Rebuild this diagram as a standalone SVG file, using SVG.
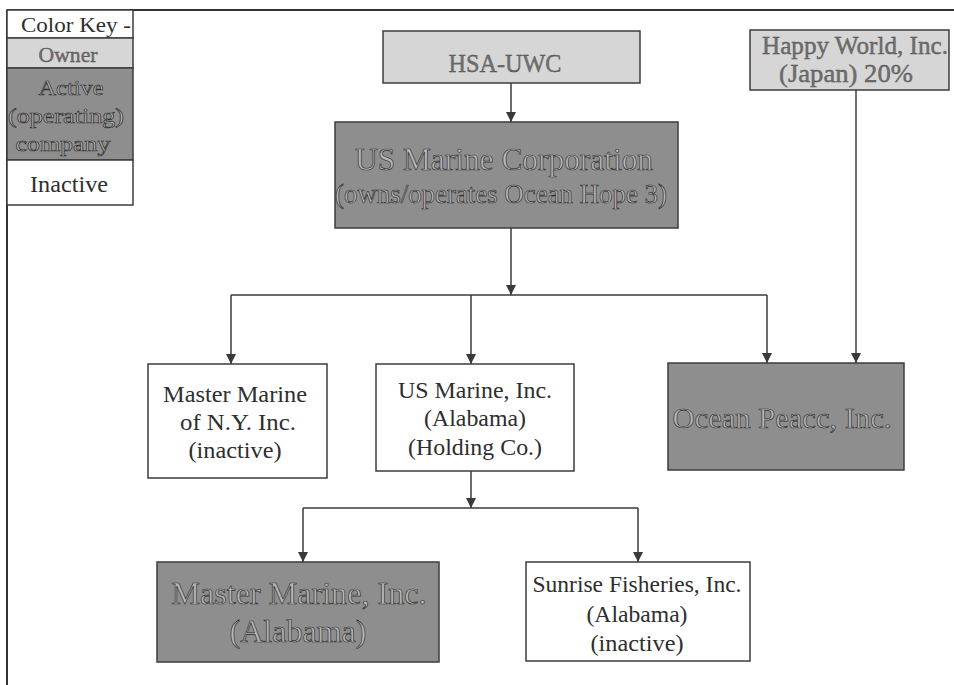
<svg xmlns="http://www.w3.org/2000/svg" width="954" height="685" viewBox="0 0 954 685">
<style>
  text{font-family:"Liberation Serif","DejaVu Serif","Times New Roman",serif}
  .t{text-anchor:middle}
  .box{stroke:#3c3c3c;stroke-width:1.5}
  .owner{fill:#d6d6d6}
  .active{fill:#8e8e8e}
  .inactive{fill:#ffffff}
  .tin{fill:#2e2e2e}
  .town{fill:#707070;stroke:#4a4a4a;stroke-width:0.35}
  .tact{fill:#b8b8b8;stroke:#333333;stroke-width:0.7}
  .con{fill:none;stroke:#3a3a3a;stroke-width:1.5}
</style>
<defs>
  <marker id="ah" viewBox="0 0 10 10" refX="10" refY="5" markerWidth="10" markerHeight="10" markerUnits="userSpaceOnUse" orient="auto">
    <path d="M0,0 L10,5 L0,10 z" fill="#3a3a3a"/>
  </marker>
</defs>
<rect width="954" height="685" fill="#ffffff"/>
<g id="frame">
  <line x1="7" y1="10" x2="954" y2="10" stroke="#333" stroke-width="2"/>
  <line x1="7" y1="10" x2="7" y2="685" stroke="#333" stroke-width="2"/>
</g>
<g id="color-key">
  <rect x="7" y="10" width="126" height="28" class="box inactive"/>
  <rect x="7" y="38" width="126" height="30" class="box owner"/>
  <rect x="7" y="68" width="126" height="92" class="box active"/>
  <rect x="7" y="160" width="126" height="45" class="box inactive"/>
  <text x="21" y="32" class="tin" font-size="22" textLength="110" lengthAdjust="spacingAndGlyphs">Color Key -</text>
  <text x="68" y="62" class="t town" font-size="21" textLength="59" lengthAdjust="spacingAndGlyphs">Owner</text>
  <text x="71" y="95" class="t tact" font-size="22" textLength="65" lengthAdjust="spacingAndGlyphs">Active</text>
  <text x="66" y="123" class="t tact" font-size="22" textLength="116" lengthAdjust="spacingAndGlyphs">(operating)</text>
  <text x="63" y="151" class="t tact" font-size="22" textLength="95" lengthAdjust="spacingAndGlyphs">company</text>
  <text x="69" y="192" class="t tin" font-size="23" textLength="78" lengthAdjust="spacingAndGlyphs">Inactive</text>
</g>
<g id="connectors">
  <line x1="511" y1="83" x2="511" y2="122" class="con" marker-end="url(#ah)"/>
  <line x1="511" y1="228" x2="511" y2="295" class="con" marker-end="url(#ah)"/>
  <line x1="231" y1="295" x2="767" y2="295" class="con"/>
  <line x1="231" y1="295" x2="231" y2="364" class="con" marker-end="url(#ah)"/>
  <line x1="471" y1="295" x2="471" y2="364" class="con" marker-end="url(#ah)"/>
  <line x1="767" y1="295" x2="767" y2="363" class="con" marker-end="url(#ah)"/>
  <line x1="856" y1="90" x2="856" y2="363" class="con" marker-end="url(#ah)"/>
  <line x1="471" y1="471" x2="471" y2="508" class="con" marker-end="url(#ah)"/>
  <line x1="303" y1="508" x2="638" y2="508" class="con"/>
  <line x1="303" y1="508" x2="303" y2="562" class="con" marker-end="url(#ah)"/>
  <line x1="638" y1="508" x2="638" y2="562" class="con" marker-end="url(#ah)"/>
</g>
<g id="hsa-uwc">
  <rect x="383" y="31" width="257" height="52" class="box owner"/>
  <text x="505" y="72" class="t town" font-size="25" textLength="113" lengthAdjust="spacingAndGlyphs">HSA-UWC</text>
</g>
<g id="happy-world">
  <rect x="750" y="30" width="199" height="60" class="box owner"/>
  <text x="855" y="54" class="t town" font-size="25" textLength="186" lengthAdjust="spacingAndGlyphs">Happy World, Inc.</text>
  <text x="846" y="82" class="t town" font-size="25" textLength="134" lengthAdjust="spacingAndGlyphs">(Japan) 20%</text>
</g>
<g id="us-marine-corporation">
  <rect x="335" y="122" width="343" height="106" class="box active"/>
  <text x="504" y="170" class="t tact" font-size="32" textLength="298" lengthAdjust="spacingAndGlyphs">US Marine Corporation</text>
  <text x="501" y="203" class="t tact" font-size="27" textLength="332" lengthAdjust="spacingAndGlyphs">(owns/operates Ocean Hope 3)</text>
</g>
<g id="master-marine-ny">
  <rect x="148" y="364" width="179" height="114" class="box inactive"/>
  <text x="235" y="402" class="t tin" font-size="23.5" textLength="144" lengthAdjust="spacingAndGlyphs">Master Marine</text>
  <text x="238" y="430" class="t tin" font-size="23.5" textLength="116" lengthAdjust="spacingAndGlyphs">of N.Y. Inc.</text>
  <text x="235" y="458" class="t tin" font-size="23.5" textLength="93" lengthAdjust="spacingAndGlyphs">(inactive)</text>
</g>
<g id="us-marine-inc">
  <rect x="376" y="364" width="198" height="107" class="box inactive"/>
  <text x="475" y="398" class="t tin" font-size="23.5" textLength="154" lengthAdjust="spacingAndGlyphs">US Marine, Inc.</text>
  <text x="475" y="426" class="t tin" font-size="23.5" textLength="102" lengthAdjust="spacingAndGlyphs">(Alabama)</text>
  <text x="475" y="455" class="t tin" font-size="23.5" textLength="134" lengthAdjust="spacingAndGlyphs">(Holding Co.)</text>
</g>
<g id="ocean-peace">
  <rect x="668" y="363" width="236" height="107" class="box active"/>
  <text x="782" y="428" class="t tact" font-size="30" textLength="219" lengthAdjust="spacingAndGlyphs">Ocean Peacc, Inc.</text>
</g>
<g id="master-marine-inc">
  <rect x="157" y="562" width="282" height="100" class="box active"/>
  <text x="299" y="604" class="t tact" font-size="32" textLength="255" lengthAdjust="spacingAndGlyphs">Master Marine, Inc.</text>
  <text x="298" y="642" class="t tact" font-size="32" textLength="137" lengthAdjust="spacingAndGlyphs">(Alabama)</text>
</g>
<g id="sunrise-fisheries">
  <rect x="526" y="562" width="224" height="99" class="box inactive"/>
  <text x="637" y="592" class="t tin" font-size="23.5" textLength="209" lengthAdjust="spacingAndGlyphs">Sunrise Fisheries, Inc.</text>
  <text x="637" y="622" class="t tin" font-size="23.5" textLength="101" lengthAdjust="spacingAndGlyphs">(Alabama)</text>
  <text x="637" y="651" class="t tin" font-size="23.5" textLength="93" lengthAdjust="spacingAndGlyphs">(inactive)</text>
</g>
</svg>
